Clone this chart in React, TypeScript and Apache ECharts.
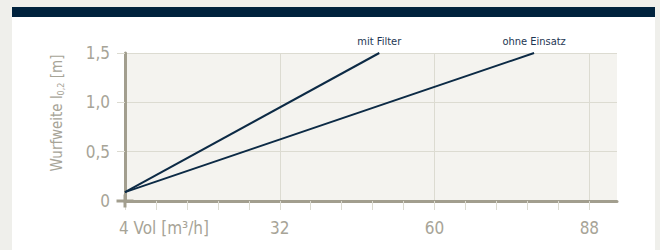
import React, { useEffect, useRef } from "react";
import * as echarts from "echarts";

const xMin = 4;
const xMax = 93;
const xLabelStep = 28;
const xMinorStep = 5.6;
const xLastTick = 88;
const xTickLabels: Record<number, string> = { 4: "4 Vol [m³/h]", 32: "32", 60: "60", 88: "88" };
const yTicks = [0, 0.5, 1.0, 1.5];
const seriesNames = ["mit Filter", "ohne Einsatz"];
const mitFilter: [number, number][] = [[4, 0.09], [50, 1.5]];
const ohneEinsatz: [number, number][] = [[4, 0.09], [78, 1.5]];

const FONT = "'Liberation Sans Narrow', 'DejaVu Sans Condensed', 'Roboto', sans-serif";
const GRAY_TEXT = "#a7a497";
const AXIS = "#a29e8e";
const GRID = "#dcdbd1";
const NAVY = "#0c2a45";

const minorTickValues: number[] = [];
for (let i = 0; xMin + i * xMinorStep <= xLastTick + 1e-6; i++) {
  minorTickValues.push(+(xMin + i * xMinorStep).toFixed(4));
}

function withEndLabel(data: [number, number][], name: string) {
  return data.map((d, i) =>
    i === data.length - 1
      ? { value: d, label: { show: true, formatter: name, position: "top", distance: 6 } }
      : { value: d }
  );
}

export default function App() {
  const ref = useRef<HTMLDivElement>(null);
  useEffect(() => {
    document.body.style.margin = "0";
    const chart = echarts.init(ref.current!, null, { renderer: "svg" });
    chart.setOption({
      animation: false,
      grid: {
        left: 125,
        top: 53,
        right: 43,
        bottom: 49,
        show: true,
        backgroundColor: "#f4f3ef",
        borderWidth: 0,
      },
      xAxis: [
        {
          type: "value",
          min: xMin,
          max: xMax,
          interval: xLabelStep,
          axisLine: { show: true, lineStyle: { color: AXIS, width: 3 }, symbol: ["rect", "none"], symbolSize: [3, 17] },
          axisTick: { show: false },
          splitLine: { show: true, showMaxLine: false, lineStyle: { color: GRID, width: 1 } },
          axisLabel: {
            showMaxLabel: false,
            margin: 18,
            color: GRAY_TEXT,
            fontFamily: FONT,
            fontSize: 17,
            formatter: (v: number) => {
              const key = Math.round(v);
              const t = xTickLabels[key];
              if (!t) return "";
              if (key === xMin) return "{pad|}" + t;
              return t;
            },
            rich: { pad: { width: 78 } },
          },
        },
        {
          type: "value",
          position: "bottom",
          min: xMin,
          max: xMax,
          interval: xMinorStep,
          axisLine: { show: false },
          axisTick: { show: true, length: 9, customValues: minorTickValues, lineStyle: { color: GRID, width: 1 } },
          splitLine: { show: false },
          axisLabel: { show: false },
        },
      ],
      yAxis: {
        type: "value",
        min: yTicks[0],
        max: yTicks[yTicks.length - 1],
        interval: 0.5,
        axisLine: { show: true, lineStyle: { color: AXIS, width: 3 }, symbol: ["rect", "none"], symbolSize: [3, 13] },
        axisTick: { show: true, length: 8, lineStyle: { color: GRID, width: 1 } },
        splitLine: { show: true, lineStyle: { color: GRID, width: 1 } },
        axisLabel: {
          margin: 15,
          color: GRAY_TEXT,
          fontFamily: FONT,
          fontSize: 17,
          formatter: (v: number) => (v === 0 ? "0" : v.toFixed(1).replace(".", ",")),
        },
        name: "Wurfweite l{sub|0,2} [m]",
        nameLocation: "middle",
        nameGap: 60,
        nameTextStyle: {
          color: GRAY_TEXT,
          fontFamily: FONT,
          fontSize: 15,
          padding: [0, 0, 0, 28],
          rich: { sub: { fontSize: 9, color: GRAY_TEXT, fontFamily: FONT, verticalAlign: "bottom", padding: [8, 0, 0, 0] } },
        },
      },
      series: [
        {
          name: seriesNames[0],
          type: "line",
          data: withEndLabel(mitFilter, seriesNames[0]),
          symbolSize: 0,
          lineStyle: { color: NAVY, width: 2 },
          itemStyle: { color: NAVY },
          label: { color: "#1d3653", fontFamily: FONT, fontSize: 11 },
        },
        {
          name: seriesNames[1],
          type: "line",
          data: withEndLabel(ohneEinsatz, seriesNames[1]),
          symbolSize: 0,
          lineStyle: { color: NAVY, width: 2 },
          itemStyle: { color: NAVY },
          label: { color: "#1d3653", fontFamily: FONT, fontSize: 11 },
        },
      ],
    });
    return () => chart.dispose();
  }, []);
  return (
    <div style={{ position: "relative", width: 660, height: 250, background: "#efefeb", overflow: "hidden" }}>
      <div style={{ position: "absolute", left: 12, top: 7, width: 643, height: 243, background: "#ffffff" }} />
      <div style={{ position: "absolute", left: 12, top: 7, width: 643, height: 10, background: "#00223d" }} />
      <div ref={ref} style={{ position: "absolute", left: 0, top: 0, width: 660, height: 250 }} />
    </div>
  );
}
